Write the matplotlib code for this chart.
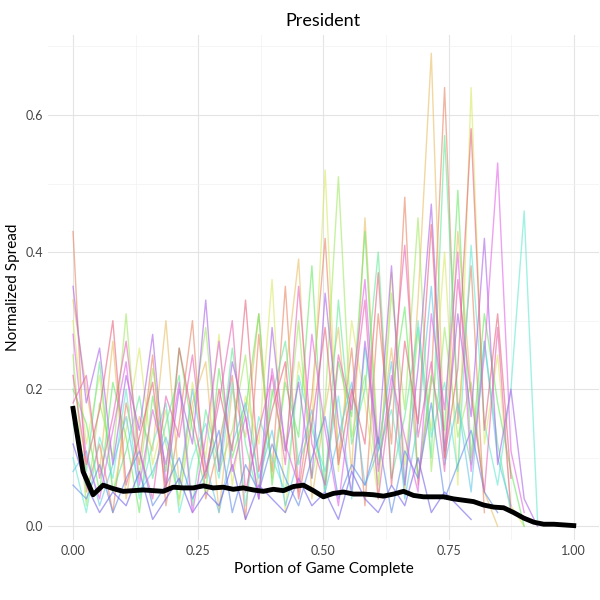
import matplotlib
matplotlib.use("Agg")
import matplotlib.pyplot as plt
import numpy as np
import colorsys

plt.rcParams['font.family'] = ['Lato', 'DejaVu Sans']

# average spread across all races (thick black line), step 0.02
mean_spread = [0.172, 0.08, 0.046, 0.060, 0.055, 0.051, 0.052, 0.053, 0.052, 0.051,
               0.057, 0.056, 0.056, 0.059, 0.056, 0.057, 0.054, 0.056, 0.053, 0.051,
               0.054, 0.052, 0.058, 0.060, 0.052, 0.043, 0.048, 0.050, 0.047, 0.047,
               0.046, 0.044, 0.047, 0.051, 0.045, 0.043, 0.043, 0.043, 0.040, 0.038,
               0.036, 0.031, 0.028, 0.027, 0.020, 0.012, 0.006, 0.003, 0.003, 0.002, 0.001]

# a sample of individual races (estimated), step 0.0265
races = [
    [0.43, 0.05, 0.12, 0.02, 0.18, 0.09, 0.25, 0.03, 0.15, 0.30, 0.04, 0.12, 0.22, 0.01, 0.28, 0.08, 0.35, 0.05, 0.19, 0.42, 0.10, 0.26, 0.03, 0.31, 0.12, 0.48, 0.06, 0.21, 0.64, 0.15, 0.38, 0.02],
    [0.33, 0.20, 0.08, 0.27, 0.04, 0.16, 0.11, 0.30, 0.06, 0.18, 0.24, 0.02, 0.20, 0.13, 0.31, 0.07, 0.22, 0.39, 0.04, 0.17, 0.29, 0.08, 0.45, 0.11, 0.26, 0.05, 0.33, 0.69, 0.10, 0.43, 0.20, 0.05, 0.00],
    [0.30, 0.12, 0.22, 0.05, 0.14, 0.26, 0.09, 0.17, 0.03, 0.21, 0.10, 0.28, 0.06, 0.19, 0.12, 0.36, 0.02, 0.24, 0.15, 0.52, 0.08, 0.30, 0.18, 0.04, 0.37, 0.09, 0.28, 0.14, 0.40, 0.06, 0.64, 0.12, 0.25, 0.03, 0.00],
    [0.25, 0.03, 0.18, 0.10, 0.31, 0.07, 0.23, 0.12, 0.04, 0.16, 0.29, 0.08, 0.14, 0.25, 0.05, 0.20, 0.11, 0.30, 0.07, 0.18, 0.51, 0.13, 0.22, 0.06, 0.34, 0.17, 0.45, 0.08, 0.29, 0.13, 0.21, 0.05],
    [0.20, 0.15, 0.05, 0.21, 0.13, 0.02, 0.19, 0.08, 0.26, 0.14, 0.05, 0.23, 0.10, 0.17, 0.31, 0.06, 0.21, 0.13, 0.38, 0.05, 0.24, 0.16, 0.43, 0.09, 0.19, 0.32, 0.07, 0.22, 0.14, 0.49, 0.10, 0.31, 0.18, 0.08, 0.00],
    [0.15, 0.08, 0.24, 0.05, 0.11, 0.19, 0.07, 0.15, 0.22, 0.03, 0.17, 0.09, 0.26, 0.12, 0.04, 0.19, 0.27, 0.09, 0.15, 0.06, 0.33, 0.12, 0.20, 0.40, 0.07, 0.16, 0.29, 0.10, 0.57, 0.18, 0.09, 0.27, 0.12, 0.02],
    [0.10, 0.02, 0.13, 0.07, 0.20, 0.04, 0.12, 0.18, 0.02, 0.10, 0.15, 0.07, 0.21, 0.03, 0.16, 0.10, 0.05, 0.22, 0.14, 0.08, 0.19, 0.04, 0.26, 0.11, 0.17, 0.06, 0.30, 0.13, 0.21, 0.08, 0.41, 0.15, 0.06, 0.20, 0.46, 0.01],
    [0.08, 0.11, 0.03, 0.09, 0.16, 0.05, 0.08, 0.13, 0.06, 0.20, 0.09, 0.02, 0.12, 0.18, 0.07, 0.14, 0.03, 0.10, 0.17, 0.05, 0.13, 0.21, 0.06, 0.11, 0.24, 0.04, 0.15, 0.35, 0.09, 0.18, 0.05, 0.27, 0.10, 0.03],
    [0.06, 0.04, 0.09, 0.02, 0.07, 0.11, 0.03, 0.06, 0.10, 0.04, 0.08, 0.14, 0.02, 0.09, 0.05, 0.12, 0.07, 0.03, 0.10, 0.16, 0.04, 0.09, 0.06, 0.13, 0.02, 0.11, 0.07, 0.18, 0.04, 0.09, 0.14, 0.05, 0.02],
    [0.12, 0.06, 0.02, 0.05, 0.03, 0.08, 0.01, 0.04, 0.07, 0.02, 0.05, 0.03, 0.09, 0.01, 0.06, 0.04, 0.02, 0.07, 0.03, 0.05, 0.01, 0.08, 0.04, 0.02, 0.06, 0.03, 0.10, 0.02, 0.05, 0.03, 0.01],
    [0.35, 0.18, 0.26, 0.09, 0.22, 0.14, 0.28, 0.06, 0.20, 0.12, 0.33, 0.08, 0.24, 0.16, 0.04, 0.29, 0.11, 0.21, 0.07, 0.34, 0.15, 0.05, 0.27, 0.12, 0.38, 0.06, 0.23, 0.47, 0.11, 0.31, 0.16, 0.42, 0.09, 0.20, 0.04, 0.00],
    [0.28, 0.10, 0.04, 0.14, 0.24, 0.06, 0.17, 0.09, 0.21, 0.02, 0.13, 0.27, 0.08, 0.16, 0.04, 0.23, 0.12, 0.06, 0.28, 0.14, 0.03, 0.19, 0.36, 0.08, 0.22, 0.13, 0.05, 0.31, 0.17, 0.40, 0.08, 0.25, 0.53, 0.11, 0.02],
    [0.18, 0.22, 0.07, 0.16, 0.27, 0.11, 0.04, 0.19, 0.13, 0.25, 0.08, 0.18, 0.30, 0.05, 0.14, 0.22, 0.09, 0.35, 0.12, 0.06, 0.25, 0.17, 0.33, 0.04, 0.20, 0.41, 0.13, 0.24, 0.08, 0.36, 0.19, 0.05, 0.29, 0.02],
    [0.22, 0.09, 0.17, 0.30, 0.06, 0.13, 0.21, 0.05, 0.26, 0.16, 0.07, 0.20, 0.11, 0.33, 0.08, 0.17, 0.24, 0.04, 0.15, 0.29, 0.09, 0.20, 0.12, 0.37, 0.06, 0.27, 0.15, 0.44, 0.10, 0.23, 0.58, 0.14, 0.31, 0.07],
]

def hue_colors(n):
    out = []
    for i in range(n):
        h = (15 + 360 * i / n) % 360 / 360
        out.append(colorsys.hls_to_rgb(h, 0.65, 0.75))
    return out

fig, ax = plt.subplots(figsize=(6, 6), dpi=100)
colors = hue_colors(len(races))
for vals, c in zip(races, colors):
    x = np.arange(len(vals)) * 0.0265
    ax.plot(x, vals, color=c, alpha=0.6, lw=1.0)

xm = np.linspace(0, 1, len(mean_spread))
ax.plot(xm, mean_spread, color='black', lw=3.5)

ax.set_xlim(-0.05, 1.05)
ax.set_ylim(-0.02, 0.717)
ax.set_xticks([0, 0.25, 0.5, 0.75, 1.0])
ax.set_xticklabels(['0.00', '0.25', '0.50', '0.75', '1.00'])
ax.set_yticks([0, 0.2, 0.4, 0.6])
ax.set_yticklabels(['0.0', '0.2', '0.4', '0.6'])
ax.set_xticks([0.125, 0.375, 0.625, 0.875], minor=True)
ax.set_yticks([0.1, 0.3, 0.5, 0.7], minor=True)
ax.grid(True, which='major', color='#e4e4e4', lw=0.8)
ax.grid(True, which='minor', color='#f2f2f2', lw=0.5)
ax.tick_params(which='both', length=0, colors='#444444', labelsize=9)
for s in ax.spines.values():
    s.set_visible(False)
ax.set_axisbelow(True)
ax.set_title('President', fontsize=13)
ax.set_xlabel('Portion of Game Complete', fontsize=11)
ax.set_ylabel('Normalized Spread', fontsize=11)
fig.subplots_adjust(left=0.08, right=0.998, top=0.942, bottom=0.1)
fig.savefig('out.png')
